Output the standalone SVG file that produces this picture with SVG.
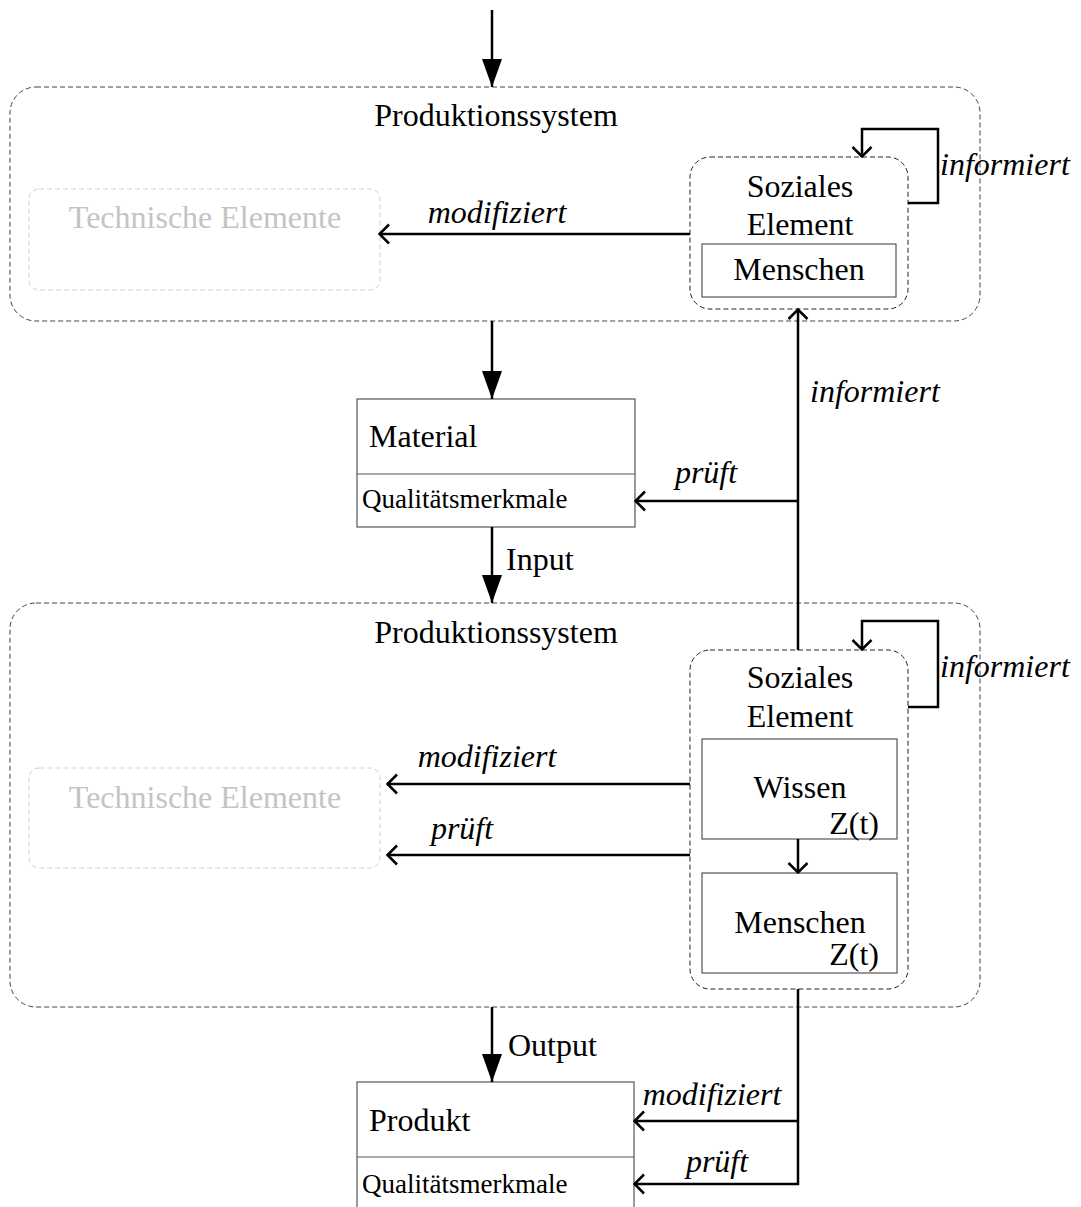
<svg xmlns="http://www.w3.org/2000/svg" width="1081" height="1207" viewBox="0 0 1081 1207">
  <style>
    text { font-family: "Liberation Serif", "Times New Roman", serif; fill: #000; font-size: 32px; }
    .mid { text-anchor: middle; }
    .end { text-anchor: end; }
    .lbl { font-style: italic; }
    .tech { fill: #c4c4c4; text-anchor: middle; }
    .small { font-size: 27px; }
    .system { fill: none; stroke: #444; stroke-width: 1; stroke-dasharray: 5 3; }
    .social { fill: #fff; stroke: #222; stroke-width: 1; stroke-dasharray: 5 3; }
    .techbox { fill: none; stroke: #cfcfcf; stroke-width: 1; stroke-dasharray: 5 3; }
    .box { fill: #fff; stroke: #555; stroke-width: 1.2; }
    .flow { fill: none; stroke: #000; stroke-width: 2.5; }
  </style>
  <defs>
    <!-- filled head for the material flow -->
    <marker id="solid" viewBox="0 0 28 20" refX="28" refY="10" markerWidth="28" markerHeight="20" markerUnits="userSpaceOnUse" orient="auto">
      <path d="M0,0 L28,10 L0,20 Z" fill="#000"/>
    </marker>
    <!-- open chevron for relations -->
    <marker id="open" viewBox="0 0 12 22" refX="11" refY="11" markerWidth="12" markerHeight="22" markerUnits="userSpaceOnUse" orient="auto">
      <path d="M1,1.5 L10.5,11 L1,20.5" fill="none" stroke="#000" stroke-width="2.5"/>
    </marker>
  </defs>

  <!-- upper production system -->
  <g id="system-top">
    <rect class="system" x="10" y="87" width="970" height="234" rx="26"/>
    <text class="mid" x="496" y="126">Produktionssystem</text>
  </g>
  <g id="tech-top">
    <rect class="techbox" x="29" y="189" width="351" height="101" rx="10"/>
    <text class="tech" x="205" y="228">Technische Elemente</text>
  </g>
  <g id="social-top">
    <rect class="social" x="690" y="157" width="218" height="152" rx="20"/>
    <text class="mid" x="800" y="197">Soziales</text>
    <text class="mid" x="800" y="235">Element</text>
  </g>
  <g id="people-top">
    <rect class="box" x="702" y="244" width="194" height="53"/>
    <text class="mid" x="799" y="280">Menschen</text>
  </g>

  <!-- material -->
  <g id="material">
    <rect class="box" x="357" y="399" width="278" height="128"/>
    <line x1="357" y1="474" x2="635" y2="474" stroke="#555" stroke-width="1.2"/>
    <text x="369" y="447">Material</text>
    <text class="small" x="362" y="508">Qualitätsmerkmale</text>
  </g>

  <!-- lower production system -->
  <g id="system-bottom">
    <rect class="system" x="10" y="603" width="970" height="404" rx="26"/>
    <text class="mid" x="496" y="643">Produktionssystem</text>
  </g>
  <g id="tech-bottom">
    <rect class="techbox" x="29" y="768" width="351" height="100" rx="10"/>
    <text class="tech" x="205" y="808">Technische Elemente</text>
  </g>
  <g id="social-bottom">
    <rect class="social" x="690" y="650" width="218" height="339" rx="20"/>
    <text class="mid" x="800" y="688">Soziales</text>
    <text class="mid" x="800" y="727">Element</text>
  </g>
  <g id="knowledge">
    <rect class="box" x="702" y="739" width="195" height="100"/>
    <text class="mid" x="800" y="798">Wissen</text>
    <text class="end" x="879" y="834">Z(t)</text>
  </g>
  <g id="people-bottom">
    <rect class="box" x="702" y="873" width="195" height="100"/>
    <text class="mid" x="800" y="933">Menschen</text>
    <text class="end" x="879" y="965">Z(t)</text>
  </g>

  <!-- product -->
  <g id="product">
    <rect class="box" x="357" y="1082" width="277" height="140"/>
    <line x1="357" y1="1157" x2="634" y2="1157" stroke="#555" stroke-width="1.2"/>
    <text x="369" y="1131">Produkt</text>
    <text class="small" x="362" y="1193">Qualitätsmerkmale</text>
  </g>

  <!-- connectors -->
  <g id="connectors">
    <!-- main flow -->
    <line class="flow" x1="492" y1="10" x2="492" y2="87" marker-end="url(#solid)"/>
    <line class="flow" x1="492" y1="321" x2="492" y2="399" marker-end="url(#solid)"/>
    <line class="flow" x1="492" y1="527" x2="492" y2="603" marker-end="url(#solid)"/>
    <text x="506" y="570">Input</text>
    <line class="flow" x1="492" y1="1007" x2="492" y2="1082" marker-end="url(#solid)"/>
    <text x="508" y="1056">Output</text>

    <!-- upper system -->
    <line class="flow" x1="690" y1="234" x2="379" y2="234" marker-end="url(#open)"/>
    <text class="lbl mid" x="497" y="223">modifiziert</text>
    <polyline class="flow" points="908,203 938,203 938,129 862,129 862,157" marker-end="url(#open)"/>
    <text class="lbl" x="940" y="175">informiert</text>

    <!-- feedback from lower social element -->
    <line class="flow" x1="798" y1="650" x2="798" y2="309" marker-end="url(#open)"/>
    <text class="lbl" x="810" y="402">informiert</text>
    <line class="flow" x1="798" y1="501" x2="635" y2="501" marker-end="url(#open)"/>
    <text class="lbl mid" x="706" y="483">prüft</text>

    <!-- lower system -->
    <line class="flow" x1="690" y1="784" x2="387" y2="784" marker-end="url(#open)"/>
    <text class="lbl mid" x="487" y="767">modifiziert</text>
    <line class="flow" x1="690" y1="855" x2="387" y2="855" marker-end="url(#open)"/>
    <text class="lbl mid" x="462" y="839">prüft</text>
    <polyline class="flow" points="908,707 938,707 938,621 862,621 862,650" marker-end="url(#open)"/>
    <text class="lbl" x="940" y="677">informiert</text>
    <line class="flow" x1="798" y1="839" x2="798" y2="873" marker-end="url(#open)"/>

    <!-- output checks -->
    <polyline class="flow" points="798,989 798,1184 634,1184" marker-end="url(#open)"/>
    <line class="flow" x1="798" y1="1121" x2="634" y2="1121" marker-end="url(#open)"/>
    <text class="lbl mid" x="712" y="1105">modifiziert</text>
    <text class="lbl mid" x="717" y="1172">prüft</text>
  </g>
</svg>
